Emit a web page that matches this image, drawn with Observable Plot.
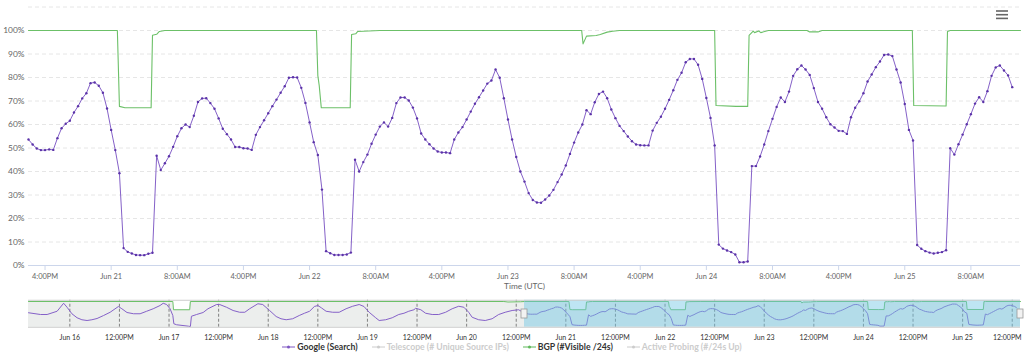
<!DOCTYPE html>
<html><head><meta charset="utf-8">
<script src="https://cdn.jsdelivr.net/npm/d3@7"></script>
<script src="https://cdn.jsdelivr.net/npm/@observablehq/plot@0.6"></script>
<style>
html,body{margin:0;padding:0;background:#fff;}
#wrap{position:relative;width:1024px;height:355px;font-family:Lato,sans-serif;overflow:hidden;background:#fff}
#main,#nav{position:absolute;left:0}
#main{top:0}
#nav{top:290px}
#legend{position:absolute;top:341px;left:0;width:1024px;display:flex;justify-content:center;align-items:center;font-size:8.7px;font-weight:bold;color:#333;white-space:nowrap}
#legend .item{display:flex;align-items:center;margin:0 7px}
#legend .item svg{margin-right:2px}
#legend .off{color:#cccccc}
#menu{position:absolute;left:994px;top:8px}
</style></head><body><div id="wrap">
<div id="main"></div><div id="nav"></div><div id="legend"></div>
<svg id="menu" width="16" height="14"><g stroke="#666" stroke-width="1.6"><line x1="2" y1="3" x2="14" y2="3"/><line x1="2" y1="6.7" x2="14" y2="6.7"/><line x1="2" y1="10.4" x2="14" y2="10.4"/></g></svg>
</div>
<script>
// ---------- DATA ----------
// Google (Search), % of max, every 30 minutes starting Jun 20 14:00 UTC
const googleStart = "06-20T14:00";
const googleStepMinutes = 30;
const googleValues = [
53.6,51.5,49.8,49.1,49.1,49.4,49.2,54.2,58.4,60.3,
61.6,65.1,67.8,71.1,73.3,77.6,77.9,76.5,73.5,66.8,
57.7,49.1,39.3,7.4,5.8,5.1,4.5,4.4,4.4,5.0,
5.4,46.7,40.6,43.5,46.5,50.5,55.0,58.4,60.0,58.9,
63.7,69.6,71.1,71.2,69.1,66.7,62.6,58.2,55.9,53.6,
50.4,50.4,49.9,49.8,49.2,55.6,58.9,61.8,64.8,67.8,
70.6,73.5,76.3,79.9,80.1,80.0,75.6,69.2,60.9,52.5,
47.0,32.3,6.1,5.2,4.5,4.5,4.5,4.7,5.5,45.0,
40.0,44.0,47.2,51.8,55.7,59.1,60.9,59.1,62.8,69.1,
71.5,71.5,70.2,67.2,62.6,56.2,53.6,51.6,49.8,48.5,
48.1,48.1,47.8,53.6,56.6,58.9,62.1,65.5,68.8,71.6,
74.5,77.4,78.7,83.4,79.9,71.2,62.1,53.6,46.2,40.0,
35.7,30.8,27.9,26.8,26.7,28.1,29.8,32.2,35.5,38.7,
42.6,47.5,52.3,56.6,60.0,66.1,64.4,69.5,73.0,74.0,
71.2,66.4,62.7,59.4,57.2,54.9,52.9,51.5,51.2,51.1,
51.1,57.4,60.7,63.3,66.7,70.5,74.6,79.0,82.0,86.5,
87.9,87.9,85.4,79.4,71.3,62.8,51.1,8.9,7.2,6.4,
5.7,4.7,1.4,1.4,1.7,42.3,42.3,46.4,51.5,57.2,
62.4,67.5,71.5,69.6,74.0,80.7,83.5,85.1,83.4,81.1,
75.5,69.6,66.7,63.1,60.1,58.7,57.3,57.2,56.0,63.1,
67.1,69.9,73.3,78.3,81.3,84.4,86.8,89.6,89.8,89.1,
83.4,77.9,68.7,57.7,53.2,8.7,7.1,6.1,5.5,5.1,
5.4,5.7,6.5,49.9,47.2,51.6,55.7,60.1,64.4,68.9,
71.6,69.6,74.2,80.7,84.3,85.1,83.0,80.9,75.9
];

// BGP (#Visible /24s), % of max
const bgpTimes = [
"06-20T14:00","06-21T00:45","06-21T01:00","06-21T01:40","06-21T04:50","06-21T05:00","06-21T05:30","06-21T05:50","06-21T06:30",
"06-22T00:50","06-22T01:00","06-22T01:10","06-22T01:25","06-22T04:55","06-22T05:05","06-22T05:35","06-22T05:50","06-22T08:30",
"06-23T08:55","06-23T09:05","06-23T09:30","06-23T10:40","06-23T11:10","06-23T12:00","06-23T12:40","06-23T13:30",
"06-24T01:00","06-24T01:10","06-24T03:35","06-24T05:00","06-24T05:10","06-24T05:40","06-24T05:50","06-24T06:20","06-24T06:35","06-24T07:30",
"06-24T12:10","06-24T12:30","06-24T13:30","06-24T14:00",
"06-25T00:55","06-25T01:05","06-25T05:00","06-25T05:10","06-25T05:30","06-25T14:00"
];
const bgpValues = [
100,100,67.7,67.1,67.1,98.0,98.4,99.6,100,
100,80.8,76.6,67.1,67.1,98.3,98.6,99.6,100,
100,94.3,97.6,97.9,98.3,99.3,99.7,100,
100,68.1,67.7,67.7,97.9,99.7,99.1,99.8,99.1,100,
100,99.4,99.4,100,
100,68.1,67.9,99.6,100,100
];

// Navigator history before the selected range (Jun 15 14:00 - Jun 20 14:00)
const navGoogleTimes = [
"06-15T14:00","06-15T16:55","06-15T18:30","06-15T20:55","06-15T22:30","06-15T23:20",
"06-16T00:30","06-16T01:45","06-16T02:55","06-16T04:10","06-16T05:20","06-16T06:35","06-16T08:10","06-16T09:45","06-16T11:45","06-16T12:35","06-16T13:50","06-16T15:25","06-16T17:00","06-16T18:35","06-16T20:10","06-16T21:50","06-16T22:35","06-16T23:25",
"06-17T00:15","06-17T00:55","06-17T01:10","06-17T01:50","06-17T04:40","06-17T05:10","06-17T05:25","06-17T06:40","06-17T08:15","06-17T09:25","06-17T11:30","06-17T12:15","06-17T13:55","06-17T15:30","06-17T17:05","06-17T18:20","06-17T19:30","06-17T21:30","06-17T22:40",
"06-18T00:20","06-18T01:55","06-18T03:05","06-18T04:20","06-18T05:55","06-18T07:30","06-18T08:45","06-18T10:00","06-18T11:10","06-18T12:00","06-18T12:50","06-18T14:00","06-18T15:35","06-18T17:10","06-18T18:50","06-18T20:25","06-18T22:00","06-18T23:10",
"06-19T00:25","06-19T02:00","06-19T02:50","06-19T04:25","06-19T06:00","06-19T07:35","06-19T08:50","06-19T10:00","06-19T11:15","06-19T11:40","06-19T12:55","06-19T14:05","06-19T15:40","06-19T17:15","06-19T18:55","06-19T20:30","06-19T22:05","06-19T23:20",
"06-20T00:30","06-20T01:20","06-20T02:55","06-20T04:30","06-20T06:10","06-20T07:45","06-20T09:20","06-20T11:00","06-20T12:35"
];
const navGoogleValues = [
55,48,48,61,93,77,
51,35,27,24,27,32,44,57,80,71,56,51,51,61,71,84,93,88,
71,44,11,7,1.3,0,41,48,56,71,88,88,77,64,57,57,71,91,88,
64,40,31,27,31,44,53,61,80,84,75,61,57,57,71,81,88,80,
57,35,24,27,35,48,53,61,67,73,67,53,48,48,57,71,81,77,
57,37,27,24,31,48,57,64,67
];
const navBgpTimes = ["06-15T14:00","06-17T00:55","06-17T01:05","06-17T05:00","06-17T05:10","06-20T09:00","06-20T10:00","06-20T13:00"];
const navBgpValues = [100,100,67,67,100,100,98,99];

// Axis ticks
const yTicks = [0,10,20,30,40,50,60,70,80,90,100];
const yGridExtra = [110];
const xTicks = ["06-20T16:00","06-21T00:00","06-21T08:00","06-21T16:00","06-22T00:00","06-22T08:00","06-22T16:00","06-23T00:00","06-23T08:00","06-23T16:00","06-24T00:00","06-24T08:00","06-24T16:00","06-25T00:00","06-25T08:00"];
const navTicks = ["06-16T00:00","06-16T12:00","06-17T00:00","06-17T12:00","06-18T00:00","06-18T12:00","06-19T00:00","06-19T12:00","06-20T00:00","06-20T12:00","06-21T00:00","06-21T12:00","06-22T00:00","06-22T12:00","06-23T00:00","06-23T12:00","06-24T00:00","06-24T12:00","06-25T00:00","06-25T12:00"];
const mainRange = ["06-20T14:00","06-25T14:00"];
const navRange = ["06-15T14:00","06-25T14:00"];

const legendItems = [
  {name:"Google (Search)", color:"#7e57c2", on:true},
  {name:"Telescope (# Unique Source IPs)", color:"#cccccc", on:false},
  {name:"BGP (#Visible /24s)", color:"#5fb85a", on:true},
  {name:"Active Probing (#/24s Up)", color:"#cccccc", on:false}
];

// ---------- BUILD ----------
const T = s => new Date(`2020-${s}:00Z`);
const g0 = T(googleStart).getTime();
const google = googleValues.map((v,i)=>({t:new Date(g0 + i*googleStepMinutes*60000), v}));
const bgp = bgpTimes.map((s,i)=>({t:T(s), v:bgpValues[i]}));
const navGoogle = navGoogleTimes.map((s,i)=>({t:T(s), v:navGoogleValues[i]})).concat(google);
const navBgp = navBgpTimes.map((s,i)=>({t:T(s), v:navBgpValues[i]})).concat(bgp);

const fmtTick = d => d.getUTCHours()===0 ? d3.utcFormat("%b %-d")(d) : d3.utcFormat("%-I:%M%p")(d);

const purple = "#8561c8", purpleDot = "#5b33a8", green = "#6cc068";

const main = Plot.plot({
  width:1024, height:295,
  marginLeft:28, marginRight:4, marginTop:6.5, marginBottom:30,
  style:{fontFamily:"Lato, sans-serif", background:"transparent", overflow:"visible"},
  x:{type:"utc", domain:mainRange.map(T)},
  y:{domain:[0,110]},
  marks:[
    Plot.ruleY(yTicks.concat(yGridExtra), {stroke:"#e6e6e6", strokeDasharray:"4,3"}),
    Plot.axisY(yTicks, {tickSize:0, tickPadding:4, tickFormat:d=>d+"%", fontSize:8.4, fill:"#666", label:null}),
    Plot.ruleY([0], {stroke:"#ccd6eb"}),
    Plot.axisX(xTicks.map(T), {tickSize:5, tickPadding:3, stroke:"#ccd6eb", fill:"#666", fontSize:7.4, tickFormat:fmtTick, label:null}),
    Plot.text(["Time (UTC)"], {frameAnchor:"bottom", dy:23, text:d=>d, fill:"#666", fontSize:8.3}),
    Plot.line(bgp, {x:"t", y:"v", stroke:green, strokeWidth:1.1}),
    Plot.line(google, {x:"t", y:"v", stroke:purple, strokeWidth:1}),
    Plot.dot(google, {x:"t", y:"v", r:1.2, fill:purpleDot, stroke:null})
  ]
});
document.getElementById("main").appendChild(main);

const sel = [{a:T(mainRange[0]), b:T(mainRange[1])}];
const navTickDates = navTicks.map(T);
const nav = Plot.plot({
  width:1024, height:55,
  marginLeft:28, marginRight:4, marginTop:11, marginBottom:19,
  style:{fontFamily:"Lato, sans-serif", background:"transparent", overflow:"visible"},
  x:{type:"utc", domain:navRange.map(T), axis:null},
  y:{domain:[0,100], axis:null},
  marks:[
    Plot.areaY(navBgp, {x:"t", y1:-3, y2:"v", fill:"#eceeed"}),
    Plot.ruleX(navTickDates, {y1:-3, y2:105, stroke:"#666", strokeDasharray:"3,2", strokeWidth:0.8}),
    Plot.line(navBgp, {x:"t", y:"v", stroke:green, strokeWidth:1}),
    Plot.line(navGoogle, {x:"t", y:"v", stroke:purple, strokeWidth:1}),
    Plot.rect(sel, {x1:"a", x2:"b", y1:-3, y2:105, fill:"rgb(110,198,228)", fillOpacity:0.45}),
    Plot.ruleY([105], {stroke:"#cccccc"}),
    Plot.ruleY([-3], {stroke:"#cccccc"}),
    Plot.axisX(navTickDates.slice(0,-1), {tickSize:0, tickPadding:9, fill:"#333", fontSize:7, tickFormat:fmtTick, label:null}),
    Plot.axisX(navTickDates.slice(-1), {tickSize:0, tickPadding:9, fill:"#333", fontSize:7, tickFormat:fmtTick, label:null, dx:-5}),
    Plot.rect(sel, {x1:"a", x2:"a", y1:32, y2:68, insetLeft:-3, insetRight:-3, fill:"#f2f2f2", stroke:"#999", strokeWidth:0.8}),
    Plot.rect(sel, {x1:"b", x2:"b", y1:32, y2:68, insetLeft:-3, insetRight:-3, fill:"#f2f2f2", stroke:"#999", strokeWidth:0.8})
  ]
});
document.getElementById("nav").appendChild(nav);

const leg = document.getElementById("legend");
legendItems.forEach(it=>{
  const s = document.createElement("span");
  s.className = "item" + (it.on ? "" : " off");
  s.innerHTML = `<svg width="13" height="8"><line x1="0" y1="4" x2="13" y2="4" stroke="${it.color}" stroke-width="1"/><circle cx="6.5" cy="4" r="1.5" fill="${it.color}"/></svg>${it.name}`;
  leg.appendChild(s);
});
</script></body></html>
